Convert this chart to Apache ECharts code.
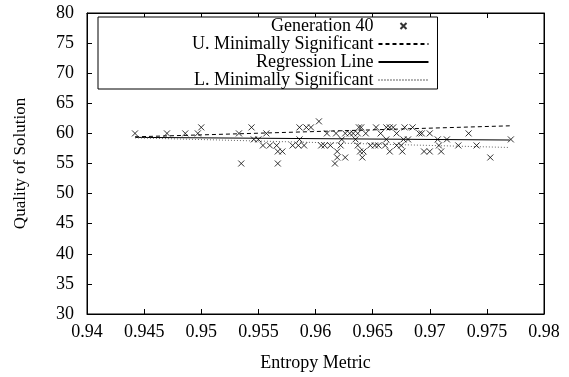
<!DOCTYPE html>
<html>
<head>
<meta charset="utf-8">
<script src="https://cdn.jsdelivr.net/npm/echarts@6/dist/echarts.min.js"></script>
<style>
  html, body { margin: 0; padding: 0; background: #fff; }
  #chart { width: 569px; height: 377px; }
</style>
</head>
<body>
<div id="chart"></div>
<script>
// Generation 40 samples (entropy metric, quality of solution)
const genX = [
  0.9442, 0.9470, 0.9486, 0.9497, 0.9500, 0.9533, 0.9544, 0.9535, 0.9546, 0.9550,
  0.9557, 0.9554, 0.9560, 0.9566, 0.9567, 0.9571, 0.9567, 0.9586, 0.9592, 0.9596,
  0.9603, 0.9586, 0.9580, 0.9585, 0.9590, 0.9610, 0.9618, 0.9626, 0.9630, 0.9633,
  0.9637, 0.9644, 0.9638, 0.9640, 0.9653, 0.9662, 0.9665, 0.9668, 0.9678, 0.9657,
  0.9671, 0.9623, 0.9635, 0.9662, 0.9677, 0.9605, 0.9608, 0.9613, 0.9622, 0.9637,
  0.9648, 0.9652, 0.9655, 0.9661, 0.9671, 0.9675, 0.9619, 0.9639, 0.9642, 0.9665,
  0.9676, 0.9619, 0.9626, 0.9641, 0.9617, 0.9685, 0.9691, 0.9693, 0.9700, 0.9734,
  0.9681, 0.9707, 0.9715, 0.9771, 0.9708, 0.9725, 0.9741, 0.9695, 0.9700, 0.9710,
  0.9753
];
const genY = [
  60, 60, 60, 60, 61, 60, 61, 55, 59, 59,
  60, 58, 58, 58, 57, 57, 55, 61, 61, 61,
  62, 59, 58, 58, 58, 60, 60, 60, 60, 60,
  60, 60, 61, 61, 61, 61, 61, 61, 61, 60,
  60, 59, 59, 59, 59, 58, 58, 58, 58, 58,
  58, 58, 58, 58, 58, 58, 57, 57, 57, 57,
  57, 56, 56, 56, 55, 61, 60, 60, 60, 60,
  59, 59, 59, 59, 58, 58, 58, 57, 57, 57,
  56
];

// fitted lines, end points
const lineX = [0.9442, 0.9770];
const upperY = [59.43, 61.26];
const regY = [59.34, 58.90];
const lowerY = [59.26, 57.66];

const xTickLabels = ['0.94', '0.945', '0.95', '0.955', '0.96', '0.965', '0.97', '0.975', '0.98'];
const yTickLabels = ['30', '35', '40', '45', '50', '55', '60', '65', '70', '75', '80'];

const FONT = '"Liberation Serif", "Times New Roman", serif';

const chart = echarts.init(document.getElementById('chart'));

const pairs = (xs, ys) => xs.map((x, i) => [x, ys[i]]);
const xLabel = v => xTickLabels[Math.round((v - 0.94) / 0.005)];
const yLabel = v => yTickLabels[Math.round((v - 30) / 5)];

const tickStyle = { show: true, inside: true, length: 5, lineStyle: { color: '#000' } };
const axisLineStyle = { show: true, lineStyle: { color: '#000', width: 1 } };

const crossSymbol = 'path://M-3,-3L3,3M3,-3L-3,3';
const crossLegend = 'path://M-7,-7L-7,-7M7,7L7,7M-3,-3L3,3M3,-3L-3,3';
// line keys: hide the symbol ECharts draws on line legend icons
const noMarker = { opacity: 0 };

const option = {
  animation: false,
  backgroundColor: '#fff',
  grid: {
    left: 87,
    right: 25,
    top: 13,
    bottom: 59,
    show: true,
    borderColor: '#000',
    borderWidth: 1
  },
  legend: {
    orient: 'vertical',
    align: 'right',
    left: 98,
    top: 17,
    padding: [0, 8, 0, 94],
    itemGap: 0,
    itemWidth: 50,
    itemHeight: 14,
    backgroundColor: '#fff',
    borderColor: '#000',
    borderWidth: 1,
    borderRadius: 0,
    textStyle: { fontFamily: FONT, fontSize: 18, color: '#000' },
    data: [
      { name: 'Generation 40', icon: crossLegend },
      { name: 'U. Minimally Significant', itemStyle: noMarker },
      { name: 'Regression Line', itemStyle: noMarker },
      { name: 'L. Minimally Significant', itemStyle: noMarker }
    ]
  },
  xAxis: [
    {
      type: 'value',
      min: 0.94,
      max: 0.98,
      interval: 0.005,
      name: 'Entropy Metric',
      nameLocation: 'middle',
      nameGap: 40,
      nameTextStyle: { fontFamily: FONT, fontSize: 18, color: '#000' },
      axisLine: axisLineStyle,
      axisTick: tickStyle,
      splitLine: { show: false },
      axisLabel: { formatter: xLabel, fontFamily: FONT, fontSize: 18, color: '#000', margin: 9 }
    },
    {
      type: 'value',
      position: 'top',
      min: 0.94,
      max: 0.98,
      interval: 0.005,
      axisLine: axisLineStyle,
      axisTick: tickStyle,
      splitLine: { show: false },
      axisLabel: { show: false }
    }
  ],
  yAxis: [
    {
      type: 'value',
      min: 30,
      max: 80,
      interval: 5,
      name: 'Quality of Solution',
      nameLocation: 'middle',
      nameGap: 58,
      nameTextStyle: { fontFamily: FONT, fontSize: 17, color: '#000' },
      axisLine: axisLineStyle,
      axisTick: tickStyle,
      splitLine: { show: false },
      axisLabel: { formatter: yLabel, fontFamily: FONT, fontSize: 18, color: '#000', margin: 13 }
    },
    {
      type: 'value',
      position: 'right',
      min: 30,
      max: 80,
      interval: 5,
      axisLine: axisLineStyle,
      axisTick: tickStyle,
      splitLine: { show: false },
      axisLabel: { show: false }
    }
  ],
  series: [
    {
      name: 'Generation 40',
      type: 'scatter',
      symbol: crossSymbol,
      symbolSize: 6,
      itemStyle: { color: 'transparent', borderColor: '#000', borderWidth: 1 },
      data: pairs(genX, genY),
      z: 3
    },
    {
      name: 'U. Minimally Significant',
      type: 'line',
      symbol: 'none',
      itemStyle: { color: '#000' },
      lineStyle: { color: '#000', width: 1, type: [4, 3] },
      data: pairs(lineX, upperY),
      z: 2
    },
    {
      name: 'Regression Line',
      type: 'line',
      symbol: 'none',
      itemStyle: { color: '#000' },
      lineStyle: { color: '#000', width: 1 },
      data: pairs(lineX, regY),
      z: 2
    },
    {
      name: 'L. Minimally Significant',
      type: 'line',
      symbol: 'none',
      itemStyle: { color: '#666' },
      lineStyle: { color: '#666', width: 1, type: [1, 2] },
      data: pairs(lineX, lowerY),
      z: 2
    }
  ]
};

chart.setOption(option);
</script>
</body>
</html>
